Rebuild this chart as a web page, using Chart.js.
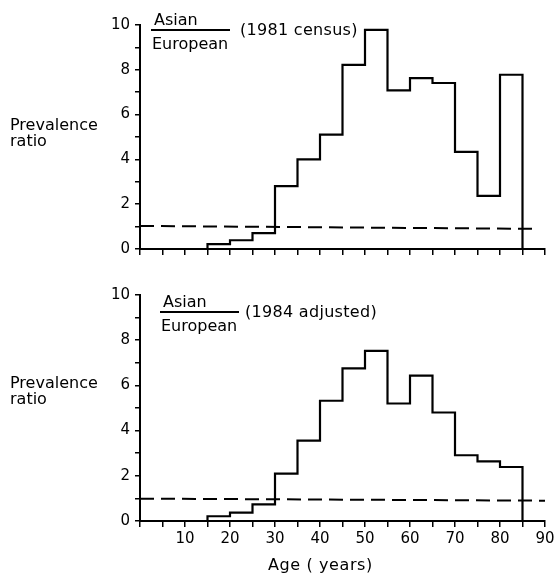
<!DOCTYPE html>
<html><head><meta charset="utf-8">
<script src="https://cdn.jsdelivr.net/npm/chart.js@4/dist/chart.umd.min.js"></script>
<style>
html,body{margin:0;padding:0;background:#fff;}
body{width:554px;height:577px;position:relative;overflow:hidden;font-family:"DejaVu Sans",sans-serif;color:#000;}
.box{position:absolute;left:0;width:554px;}
.ylab{position:absolute;left:10px;font-size:16px;line-height:16px;}
.frac{position:absolute;font-size:16px;line-height:15px;}
.frac .num{display:block;border-bottom:2px solid #000;padding:0 2px 2px 3px;}
.frac .den{display:block;padding:5px 2px 0 1px;}
.note{position:absolute;font-size:16px;line-height:16px;letter-spacing:0.3px;}
.xtitle{position:absolute;font-size:16px;line-height:16px;letter-spacing:0.6px;}
</style>
</head><body>
<div class="box" style="top:0;height:270px;"><canvas id="c1"></canvas></div>
<div class="box" style="top:270px;height:307px;"><canvas id="c2"></canvas></div>

<div class="ylab" style="top:117px;">Prevalence<br>ratio</div>
<div class="ylab" style="top:375px;">Prevalence<br>ratio</div>

<div class="frac" style="left:151px;top:12px;"><span class="num">Asian</span><span class="den">European</span></div>
<div class="note" style="left:240px;top:22px;">(1981 census)</div>
<div class="frac" style="left:160px;top:294px;"><span class="num">Asian</span><span class="den">European</span></div>
<div class="note" style="left:245px;top:304px;">(1984 adjusted)</div>
<div class="xtitle" style="left:268px;top:557px;">Age ( years)</div>

<script>
// ---- data ----
const ageStarts = [15,20,25,30,35,40,45,50,55,60,65,70,75,80];
const binWidth = 5;
const ratio1981 = [0.22,0.39,0.71,2.81,4.0,5.11,8.22,9.78,7.08,7.63,7.41,4.34,2.37,7.78];
const ratio1984 = [0.21,0.37,0.74,2.10,3.56,5.32,6.75,7.53,5.20,6.43,4.80,2.91,2.64,2.39];
const refLineX1981 = [0, 88];
const refLineX1984 = [0, 90];
const refLine1981 = [1.03, 0.90];
const refLine1984 = [0.99, 0.90];
const xTickLabels = ['10','20','30','40','50','60','70','80','90'];
const yTickLabels = ['0','2','4','6','8','10'];

function stepPoints(starts, vals){
  const pts = [{x: starts[0], y: 0}];
  starts.forEach((a,i)=>pts.push({x:a, y:vals[i]}));
  const end = starts[starts.length-1] + binWidth;
  pts.push({x:end, y:vals[vals.length-1]});
  pts.push({x:end, y:0});
  return pts;
}

function makeChart(id, vals, refX, ref, showLabels, xAxisHeight, padRight){
  const ctx = document.getElementById(id);
  return new Chart(ctx, {
    type: 'line',
    data: {
      datasets: [
        {data: stepPoints(ageStarts, vals), stepped: 'before', borderColor:'#000', borderWidth:2.2,
         pointRadius:0, fill:false, clip:false},
        {data: refX.map((x,i)=>({x:x, y:ref[i]})), borderColor:'#000', borderWidth:2,
         borderDash:[14,7], pointRadius:0, fill:false, clip:false}
      ]
    },
    options: {
      responsive:true, maintainAspectRatio:false, animation:false,
      layout:{padding:{top:25, right:padRight, left:0, bottom:0}},
      plugins:{legend:{display:false}, tooltip:{enabled:false}},
      scales:{
        x:{type:'linear', min:0, max:90,
           afterFit: s => { s.height = xAxisHeight; s.paddingRight = 0; s.paddingLeft = 0; },
           ticks:{stepSize:5, autoSkip:false, maxRotation:0, padding:3, color:'#000',
             font:{family:'DejaVu Sans', size:15},
             callback: v => (showLabels && xTickLabels.includes(String(v))) ? String(v) : ''},
           grid:{drawOnChartArea:false, drawTicks:true, tickLength:6, color:'#000', lineWidth:1.5},
           border:{display:true, color:'#000', width:2}
        },
        y:{min:0, max:10,
           afterFit: s => { s.width = 140; },
           ticks:{stepSize:1, autoSkip:false, padding:5, color:'#000',
             font:{family:'DejaVu Sans', size:15},
             callback: v => yTickLabels.includes(String(v)) ? String(v) : ''},
           grid:{drawOnChartArea:false, drawTicks:true, tickLength:5, color:'#000', lineWidth:1.5},
           border:{display:true, color:'#000', width:2}
        }
      }
    }
  });
}

makeChart('c1', ratio1981, refLineX1981, refLine1981, false, 21, 9);
makeChart('c2', ratio1984, refLineX1984, refLine1984, true, 56, 9);
</script>
</body></html>
